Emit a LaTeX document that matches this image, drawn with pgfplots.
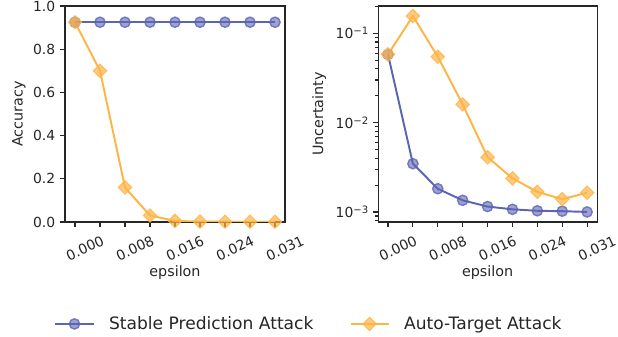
\documentclass[border=0pt]{standalone}
\usepackage{fontspec}
\setmainfont{DejaVu Sans}
\usepackage{pgfplots}
\pgfplotsset{compat=1.18}
\definecolor{sblue}{RGB}{92,100,180}
\definecolor{sorange}{RGB}{255,180,70}
\definecolor{frame}{RGB}{38,38,38}
\newcommand{\tkf}{\fontsize{10}{12}\selectfont}
\newcommand{\lt}[1]{\tkf 10\raisebox{0.55ex}{\fontsize{7.3}{8}\selectfont −#1}}
\pgfplotsset{
  common/.style={
    scale only axis,
    width=158.4pt, height=155.5pt,
    xmin=-0.4, xmax=8.4,
    xtick={0,2,4,6,8},
    minor xtick={1,3,5,7},
    xticklabels={{\tkf 0.000},{\tkf 0.008},{\tkf 0.016},{\tkf 0.024},{\tkf 0.031}},
    xticklabel style={text=frame, rotate=25, anchor=center, yshift=-17pt},
    yticklabel style={text=frame},
    tick align=outside,
    major tick length=3.5pt,
    minor tick length=2pt,
    minor x tick style={/pgfplots/minor tick length=3.5pt},
    tick style={frame, line width=0.8pt},
    axis line style={frame, line width=0.8pt},
    xtick pos=bottom, ytick pos=left,
    label style={font=\fontsize{10.3}{12}\selectfont, text=frame},
    xlabel={epsilon},
    xlabel style={at={(0.5,-0.235)}, anchor=center},
    /pgf/number format/assume math mode=true,
  },
  bl/.style={sblue, line width=1.4pt, mark=*, mark size=3.7pt,
    mark options={fill=sblue, fill opacity=0.6, draw opacity=0.8, line width=1pt}},
  or/.style={sorange, line width=1.4pt, mark=square*, mark size=3.4pt,
    mark options={rotate=45, fill=sorange, fill opacity=0.7, draw opacity=0.8, line width=0.8pt}},
}
\begin{document}
\begin{tikzpicture}[x=1pt,y=1pt]
\path[use as bounding box] (0,0) rectangle (444.96,242.64);
\begin{axis}[common,
  at={(46.8pt,82.8pt)}, anchor=south west,
  ymin=0, ymax=1.0,
  ytick={0,0.2,0.4,0.6,0.8,1.0},
  yticklabels={{\tkf 0.0},{\tkf 0.2},{\tkf 0.4},{\tkf 0.6},{\tkf 0.8},{\tkf 1.0}},
  ylabel={Accuracy},
  ylabel style={at={(-0.209,0.5)}, anchor=center},
  legend columns=2,
  legend style={at={(1.111,-0.472)}, anchor=center, draw=none, fill=none,
    font=\fontsize{12.3}{14}\selectfont, text=frame,
    /tikz/every odd column/.append style={column sep=8.5pt},
    /tikz/every even column/.append style={column sep=24pt}},
  legend image code/.code={
    \draw[mark repeat=2,mark phase=2] plot coordinates {(0pt,0pt) (13.7pt,0pt) (27.4pt,0pt)};},
]
\addplot[bl] coordinates {(0,0.925) (1,0.925) (2,0.925) (3,0.925) (4,0.925) (5,0.925) (6,0.925) (7,0.925) (8,0.925)};
\addlegendentry{Stable Prediction Attack}
\addplot[or] coordinates {(0,0.925) (1,0.70) (2,0.16) (3,0.03) (4,0.005) (5,0.002) (6,0.001) (7,0.001) (8,0.001)};
\addlegendentry{Auto-Target Attack}
\end{axis}
\begin{axis}[common,
  at={(272.2pt,82.8pt)}, anchor=south west,
  width=157.7pt,
  ymode=log,
  ymin=7.72e-4, ymax=0.202,
  ytick={0.001,0.01,0.1},
  yticklabels={{\lt{3}},{\lt{2}},{\lt{1}}},
  minor ytick={8e-4,9e-4,2e-3,3e-3,4e-3,5e-3,6e-3,7e-3,8e-3,9e-3,2e-2,3e-2,4e-2,5e-2,6e-2,7e-2,8e-2,9e-2,2e-1},
  ylabel={Uncertainty},
  ylabel style={at={(-0.269,0.5)}, anchor=center},
]
\addplot[bl] coordinates {(0,0.058) (1,0.00347) (2,0.00182) (3,0.00135) (4,0.00115) (5,0.00107) (6,0.00103) (7,0.00102) (8,0.00100)};
\addplot[or] coordinates {(0,0.058) (1,0.156) (2,0.0547) (3,0.016) (4,0.0041) (5,0.00238) (6,0.00168) (7,0.00139) (8,0.00164)};
\end{axis}
\end{tikzpicture}
\end{document}
